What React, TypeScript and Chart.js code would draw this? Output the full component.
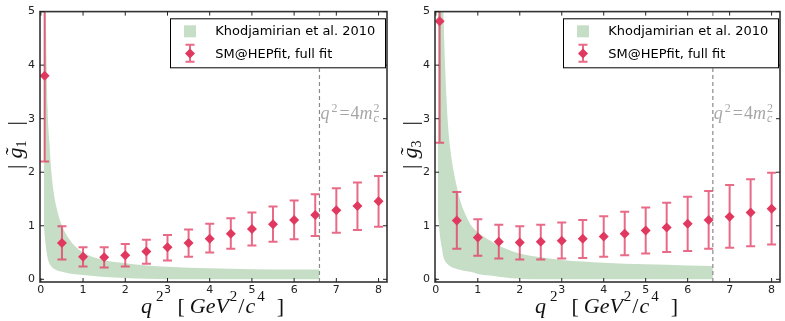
import React, { useEffect, useRef } from 'react';
import { Chart, registerables } from 'chart.js';

Chart.register(...registerables);

// ---------- data ----------
const qPoints = [0.09, 0.5, 1, 1.5, 2, 2.5, 3, 3.5, 4, 4.5, 5, 5.5, 6, 6.5, 7, 7.5, 8];

const g1Central = [3.8, 0.68, 0.42, 0.41, 0.45, 0.52, 0.60, 0.68, 0.76, 0.85, 0.94, 1.03, 1.11, 1.20, 1.29, 1.37, 1.46];
const g1Low = [2.2, 0.37, 0.24, 0.22, 0.24, 0.29, 0.35, 0.42, 0.50, 0.57, 0.63, 0.70, 0.75, 0.81, 0.87, 0.92, 0.98];
const g1High = [5.4, 0.99, 0.60, 0.60, 0.66, 0.74, 0.83, 0.93, 1.04, 1.14, 1.25, 1.36, 1.47, 1.59, 1.70, 1.81, 1.93];

const g3Central = [4.82, 1.10, 0.78, 0.70, 0.69, 0.70, 0.72, 0.76, 0.80, 0.85, 0.91, 0.97, 1.04, 1.11, 1.17, 1.25, 1.32];
const g3Low = [2.55, 0.57, 0.44, 0.39, 0.37, 0.37, 0.39, 0.40, 0.42, 0.45, 0.48, 0.51, 0.53, 0.57, 0.59, 0.62, 0.65];
const g3High = [7.1, 1.63, 1.12, 1.02, 0.99, 1.02, 1.06, 1.11, 1.18, 1.26, 1.34, 1.43, 1.54, 1.65, 1.76, 1.87, 1.99];

const band1Q = [0.07, 0.1, 0.12, 0.16, 0.2, 0.24, 0.3, 0.4, 0.5, 0.6, 0.75, 1.0, 1.5, 2.0, 2.5, 3.0, 4.0, 5.0, 6.0, 6.6];
const band1Upper = [8, 5.8, 4.8, 3.2, 2.6, 2.1, 1.65, 1.25, 1.0, 0.84, 0.67, 0.5, 0.36, 0.3, 0.26, 0.235, 0.205, 0.19, 0.185, 0.185];
const band1Lower = [1.0, 0.75, 0.6, 0.4, 0.3, 0.25, 0.2, 0.16, 0.14, 0.125, 0.1, 0.08, 0.045, 0.025, 0.01, 0.0, 0, 0, 0, 0];

const band3Q = [0.05, 0.1, 0.14, 0.18, 0.22, 0.28, 0.35, 0.43, 0.57, 0.7, 0.83, 1.0, 1.28, 1.5, 2.0, 2.5, 3.0, 4.0, 5.0, 6.0, 6.6];
const band3Upper = [8, 7, 6, 5, 4, 3, 2.4, 2.0, 1.5, 1.22, 1.02, 0.88, 0.73, 0.63, 0.48, 0.41, 0.36, 0.31, 0.28, 0.26, 0.25];
const band3Lower = [1.2, 0.8, 0.6, 0.42, 0.34, 0.28, 0.24, 0.21, 0.18, 0.155, 0.14, 0.1, 0.07, 0.05, 0.012, 0, 0, 0, 0, 0, 0];

const xTicks = [0, 1, 2, 3, 4, 5, 6, 7, 8];
const yTicks = [0, 1, 2, 3, 4, 5];
const legendLabels = ['Khodjamirian et al. 2010', 'SM@HEPfit, full fit'];
const thresholdQ2 = 6.6;
const annotationY = 3.0;

// ---------- style ----------
const RED = 'rgb(225,56,95)';
const ERR = 'rgba(225,56,95,0.75)';
const BAND = 'rgb(198,222,198)';
const SERIF_I = (s: number) => `italic ${s}px "Liberation Serif", serif`;
const SERIF = (s: number) => `${s}px "Liberation Serif", serif`;

type Run = { t: string; font: string; dy?: number; gap?: number; stack?: boolean; tilde?: boolean };

function runsWidth(ctx: CanvasRenderingContext2D, runs: Run[]) {
  let x = 0;
  let prevStart = 0;
  let maxX = 0;
  for (const r of runs) {
    ctx.font = r.font;
    const start = r.stack ? prevStart : x + (r.gap || 0);
    const w = ctx.measureText(r.t).width;
    prevStart = start;
    x = r.stack ? Math.max(x, start + w) : start + w;
    maxX = Math.max(maxX, x);
  }
  return maxX;
}

function drawRuns(ctx: CanvasRenderingContext2D, runs: Run[], x0: number, y0: number) {
  let x = x0;
  let prevStart = x0;
  for (const r of runs) {
    ctx.font = r.font;
    const start = r.stack ? prevStart : x + (r.gap || 0);
    const w = ctx.measureText(r.t).width;
    ctx.fillText(r.t, start, y0 + (r.dy || 0));
    if (r.tilde) {
      ctx.fillText('\u02DC', start + w * 0.2, y0 - 2);
    }
    prevStart = start;
    x = r.stack ? Math.max(x, start + w) : start + w;
  }
}

function makeDeco(low: number[], high: number[], sub: string) {
  return {
    id: 'deco',
    beforeDatasetDraw(chart: any, args: any) {
      if (args.index !== 2) return;
      const ctx = chart.ctx as CanvasRenderingContext2D;
      const xs = chart.scales.x;
      const ys = chart.scales.y;
      const ca = chart.chartArea;
      ctx.save();
      ctx.beginPath();
      ctx.rect(ca.left, ca.top, ca.right - ca.left, ca.bottom - ca.top);
      ctx.clip();
      ctx.strokeStyle = ERR;
      ctx.lineWidth = 2;
      qPoints.forEach((q, i) => {
        const x = xs.getPixelForValue(q);
        const yl = ys.getPixelForValue(low[i]);
        const yh = ys.getPixelForValue(high[i]);
        ctx.beginPath();
        ctx.moveTo(x, yl);
        ctx.lineTo(x, yh);
        ctx.moveTo(x - 4.5, yl);
        ctx.lineTo(x + 4.5, yl);
        ctx.moveTo(x - 4.5, yh);
        ctx.lineTo(x + 4.5, yh);
        ctx.stroke();
      });
      ctx.restore();
    },
    afterDraw(chart: any) {
      const ctx = chart.ctx as CanvasRenderingContext2D;
      const xs = chart.scales.x;
      const ys = chart.scales.y;
      const ca = chart.chartArea;
      ctx.save();

      // threshold dashed line
      const tx = xs.getPixelForValue(thresholdQ2);
      ctx.strokeStyle = '#8a8a8a';
      ctx.lineWidth = 1.2;
      ctx.setLineDash([4, 3]);
      ctx.beginPath();
      ctx.moveTo(tx, ca.bottom);
      ctx.lineTo(tx, ca.top);
      ctx.stroke();
      ctx.setLineDash([]);

      // annotation q^2 = 4 m_c^2
      ctx.fillStyle = '#a6a6a6';
      ctx.textBaseline = 'alphabetic';
      ctx.textAlign = 'left';
      drawRuns(
        ctx,
        [
          { t: 'q', font: SERIF_I(18) },
          { t: '2', font: SERIF(12), dy: -7, gap: 2 },
          { t: '=', font: SERIF(18), gap: 2 },
          { t: '4', font: SERIF(18), gap: 1 },
          { t: 'm', font: SERIF_I(18) },
          { t: 'c', font: SERIF_I(12), dy: 3, gap: 1 },
          { t: '2', font: SERIF(12), dy: -7, stack: true },
        ],
        tx + 1,
        ys.getPixelForValue(annotationY)
      );

      // spines
      ctx.strokeStyle = '#333';
      ctx.lineWidth = 1.6;
      ctx.strokeRect(ca.left, ca.top, ca.right - ca.left, ca.bottom - ca.top);

      // inward ticks
      ctx.lineWidth = 1;
      ctx.strokeStyle = '#222';
      ctx.beginPath();
      xTicks.forEach((v) => {
        const x = xs.getPixelForValue(v);
        ctx.moveTo(x, ca.bottom);
        ctx.lineTo(x, ca.bottom - 4);
        ctx.moveTo(x, ca.top);
        ctx.lineTo(x, ca.top + 4);
      });
      yTicks.forEach((v) => {
        const y = ys.getPixelForValue(v);
        ctx.moveTo(ca.left, y);
        ctx.lineTo(ca.left + 4, y);
        ctx.moveTo(ca.right, y);
        ctx.lineTo(ca.right - 4, y);
      });
      ctx.stroke();

      // legend
      const bx0 = ca.right - 217;
      const by0 = ca.top + 6.7;
      const bw = 216;
      const bh = 50;
      ctx.fillStyle = '#fff';
      ctx.fillRect(bx0, by0, bw, bh);
      ctx.strokeStyle = '#000';
      ctx.lineWidth = 1;
      ctx.strokeRect(bx0 + 0.5, by0 + 0.5, bw - 1, bh - 1);
      ctx.fillStyle = BAND;
      ctx.fillRect(bx0 + 14, by0 + 7, 12, 12);
      const mx = bx0 + 20;
      const my = by0 + 35.3;
      ctx.strokeStyle = ERR;
      ctx.lineWidth = 2;
      ctx.beginPath();
      ctx.moveTo(mx, by0 + 26.5);
      ctx.lineTo(mx, by0 + 43.5);
      ctx.moveTo(mx - 4.5, by0 + 26.5);
      ctx.lineTo(mx + 4.5, by0 + 26.5);
      ctx.moveTo(mx - 4.5, by0 + 43.5);
      ctx.lineTo(mx + 4.5, by0 + 43.5);
      ctx.stroke();
      ctx.fillStyle = RED;
      ctx.beginPath();
      ctx.moveTo(mx, my - 5);
      ctx.lineTo(mx + 5, my);
      ctx.lineTo(mx, my + 5);
      ctx.lineTo(mx - 5, my);
      ctx.closePath();
      ctx.fill();
      ctx.font = '14px "DejaVu Sans", sans-serif';
      const w14 = ctx.measureText(legendLabels[0]).width;
      const fs = (14 * 160) / w14;
      ctx.font = `${fs}px "DejaVu Sans", sans-serif`;
      ctx.fillStyle = '#000';
      ctx.textBaseline = 'middle';
      ctx.fillText(legendLabels[0], bx0 + 45.3, by0 + 13.3);
      ctx.fillText(legendLabels[1], bx0 + 45.3, by0 + 36.3);

      // x axis label
      ctx.fillStyle = '#111';
      ctx.textBaseline = 'alphabetic';
      const xRuns: Run[] = [
        { t: 'q', font: SERIF_I(22) },
        { t: '2', font: SERIF(15), dy: -12, gap: 4 },
        { t: '[', font: SERIF(22), gap: 14 },
        { t: 'GeV', font: SERIF_I(22), gap: 5 },
        { t: '2', font: SERIF(15), dy: -12, gap: 1 },
        { t: '/', font: SERIF(22), gap: 1 },
        { t: 'c', font: SERIF_I(22), gap: 1 },
        { t: '4', font: SERIF(15), dy: -12, gap: 2 },
        { t: ']', font: SERIF(22), gap: 12 },
      ];
      const xw = runsWidth(ctx, xRuns);
      drawRuns(ctx, xRuns, (ca.left + ca.right) / 2 - xw / 2 - 1, 313);

      // y axis label (rotated)
      ctx.save();
      ctx.translate(22, 144);
      ctx.rotate(-Math.PI / 2);
      const yRuns: Run[] = [
        { t: '|', font: SERIF(22) },
        { t: 'g', font: SERIF_I(22), gap: 6, tilde: true },
        { t: sub, font: SERIF(14), dy: 4, gap: 0 },
        { t: '|', font: SERIF(22), gap: 15 },
      ];
      const yw = runsWidth(ctx, yRuns);
      drawRuns(ctx, yRuns, -yw / 2 - 1, 0);
      ctx.restore();

      ctx.restore();
    },
  };
}

type PanelProps = {
  left: number;
  width: number;
  padRight: number;
  central: number[];
  low: number[];
  high: number[];
  bandQ: number[];
  bandUpper: number[];
  bandLower: number[];
  sub: string;
};

function Panel(props: PanelProps) {
  const ref = useRef<HTMLCanvasElement | null>(null);
  useEffect(() => {
    const canvas = ref.current;
    if (!canvas) return;
    const chart = new Chart(canvas, {
      type: 'line',
      data: {
        datasets: [
          {
            label: 'band lower',
            data: props.bandQ.map((q, i) => ({ x: q, y: props.bandLower[i] })),
            borderColor: 'transparent',
            borderWidth: 0,
            pointRadius: 0,
            fill: false,
            cubicInterpolationMode: 'monotone',
            order: 3,
          },
          {
            label: legendLabels[0],
            data: props.bandQ.map((q, i) => ({ x: q, y: props.bandUpper[i] })),
            borderColor: 'transparent',
            borderWidth: 0,
            pointRadius: 0,
            fill: '-1',
            backgroundColor: BAND,
            cubicInterpolationMode: 'monotone',
            order: 2,
          },
          {
            label: legendLabels[1],
            data: qPoints.map((q, i) => ({ x: q, y: props.central[i] })),
            showLine: false,
            pointStyle: 'rectRot',
            pointRadius: 5,
            pointBackgroundColor: RED,
            pointBorderWidth: 0,
            borderColor: RED,
            order: 1,
          },
        ],
      } as any,
      options: {
        responsive: false,
        animation: false,
        devicePixelRatio: 1,
        layout: { padding: { top: 10, left: 0, right: props.padRight, bottom: 0 } },
        plugins: { legend: { display: false }, tooltip: { enabled: false } },
        scales: {
          x: {
            type: 'linear',
            min: -0.02,
            max: 8.2,
            grid: { display: false, drawTicks: false },
            border: { display: false },
            ticks: { color: '#222', font: { size: 11, family: '"DejaVu Sans", sans-serif' }, padding: 2, maxRotation: 0 },
            afterBuildTicks: (s: any) => {
              s.ticks = xTicks.map((v) => ({ value: v }));
            },
            afterFit: (s: any) => {
              s.height = 39;
            },
          },
          y: {
            type: 'linear',
            min: -0.05,
            max: 5,
            grid: { display: false, drawTicks: false },
            border: { display: false },
            ticks: { color: '#222', font: { size: 11, family: '"DejaVu Sans", sans-serif' }, padding: 5 },
            afterBuildTicks: (s: any) => {
              s.ticks = yTicks.map((v) => ({ value: v }));
            },
            afterFit: (s: any) => {
              s.width = 40;
            },
          },
        },
      } as any,
      plugins: [makeDeco(props.low, props.high, props.sub)],
    });
    return () => chart.destroy();
  }, []);
  return (
    <canvas
      ref={ref}
      width={props.width}
      height={321}
      style={{ position: 'absolute', left: props.left, top: 0, width: props.width, height: 321 }}
    />
  );
}

export default function App() {
  return (
    <div style={{ position: 'fixed', left: 0, top: 0, width: 785, height: 321, background: '#fff' }}>
      <Panel
        left={0}
        width={392}
        padRight={2}
        central={g1Central}
        low={g1Low}
        high={g1High}
        bandQ={band1Q}
        bandUpper={band1Upper}
        bandLower={band1Lower}
        sub="1"
      />
      <Panel
        left={395}
        width={390}
        padRight={0}
        central={g3Central}
        low={g3Low}
        high={g3High}
        bandQ={band3Q}
        bandUpper={band3Upper}
        bandLower={band3Lower}
        sub="3"
      />
    </div>
  );
}
